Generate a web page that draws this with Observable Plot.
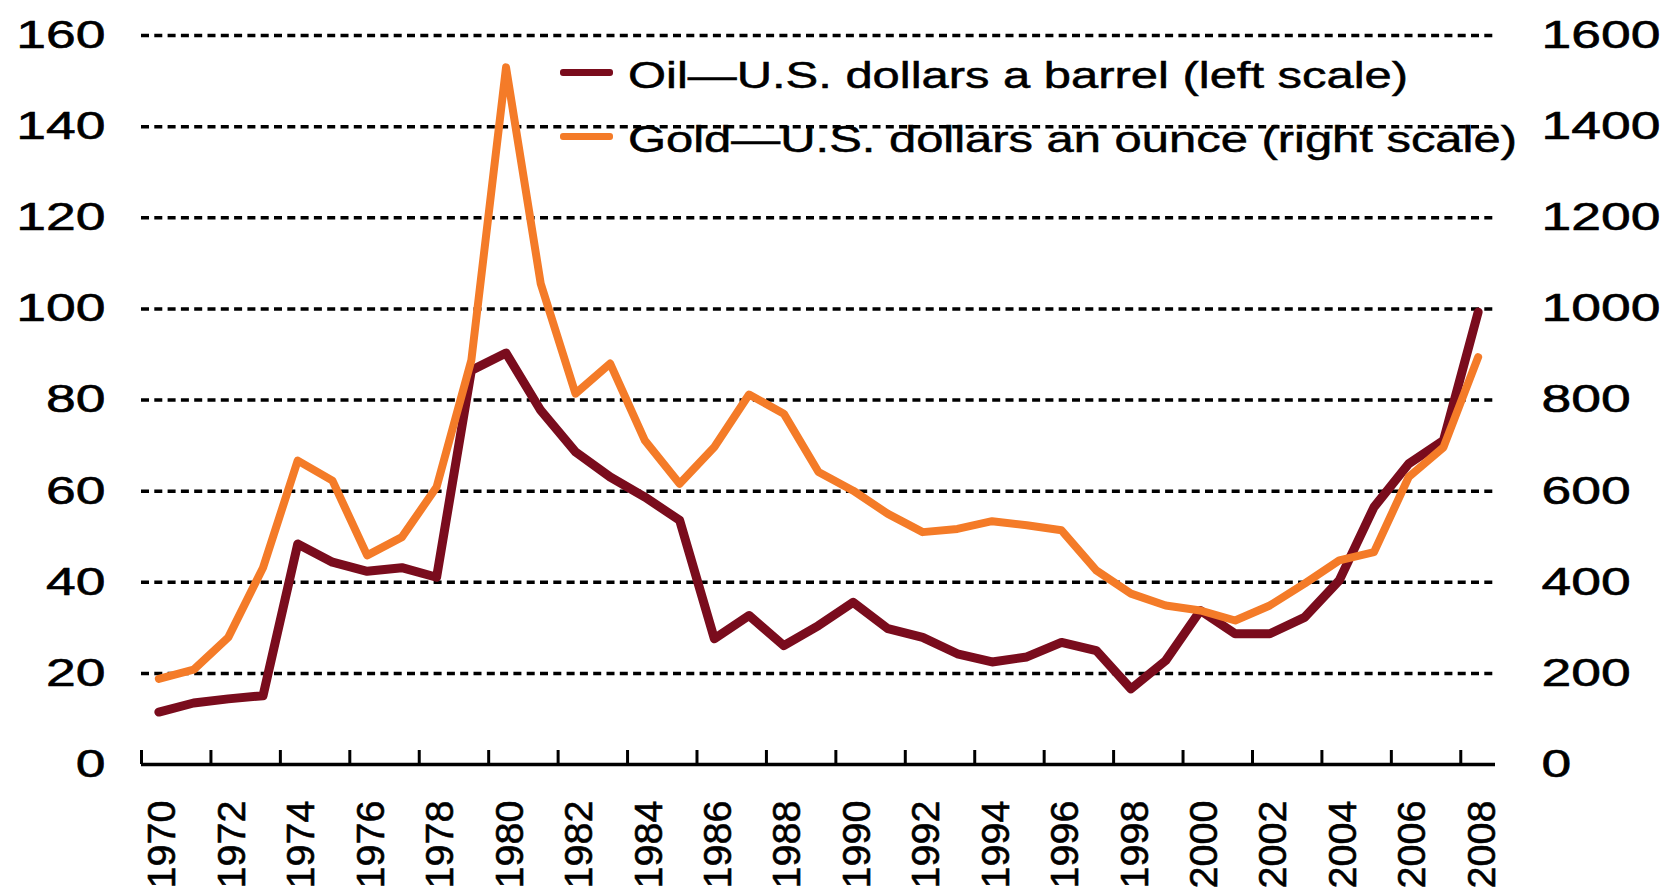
<!DOCTYPE html>
<html><head><meta charset="utf-8">
<script src="https://cdn.jsdelivr.net/npm/d3@7"></script>
<script src="https://cdn.jsdelivr.net/npm/@observablehq/plot@0.6"></script>
<style>
html,body{margin:0;padding:0;background:#fff;}
#wrap{position:relative;width:1669px;height:896px;overflow:hidden;font-family:"Liberation Sans",Arial,sans-serif;}
#wrap svg{position:absolute;left:0;top:0;}
#wrap svg text{stroke:#000;stroke-width:0.6px;}
.leg{position:absolute;left:560px;height:36px;}
.sw{position:absolute;left:0;top:11px;width:53px;height:7px;border-radius:3px;}
.lt{position:absolute;left:68px;top:0;font-size:36.5px;line-height:36px;white-space:nowrap;transform:scaleX(1.34);transform-origin:0 50%;color:#000;-webkit-text-stroke:0.5px #000;}
</style></head>
<body><div id="wrap"></div>
<script>
// ---- data ----
const years = [1970,1971,1972,1973,1974,1975,1976,1977,1978,1979,
               1980,1981,1982,1983,1984,1985,1986,1987,1988,1989,
               1990,1991,1992,1993,1994,1995,1996,1997,1998,1999,
               2000,2001,2002,2003,2004,2005,2006,2007,2008];
const oil = [11.5,13.5,14.4,15.1,48.4,44.4,42.4,43.2,41.1,86.5,
             90.3,77.7,68.6,63.1,58.7,53.6,27.6,32.7,26.1,30.5,
             35.6,29.8,27.9,24.3,22.5,23.6,26.8,25.0,16.6,22.8,
             33.8,28.7,28.7,32.3,40.4,56.5,66.0,71.1,99.3];
const gold = [188,208,279,432,667,623,459,499,609,887,
              1530,1055,814,880,711,616,697,812,770,642,
              601,550,510,517,534,525,514,426,375,349,
              338,316,349,397,448,466,631,696,894];
const labelYears = [1970,1972,1974,1976,1978,1980,1982,1984,1986,1988,1990,
                    1992,1994,1996,1998,2000,2002,2004,2006,2008];
const leftTicks = [0,20,40,60,80,100,120,140,160];
const rightTicks = [0,200,400,600,800,1000,1200,1400,1600];
const seriesNames = ["Oil\u2014U.S. dollars a barrel (left scale)",
                     "Gold\u2014U.S. dollars an ounce (right scale)"];
const seriesColors = ["#7a0c1d", "#f47b28"];

// ---- chart ----
const data = years.map((year, i) => ({year, oil: oil[i], gold: gold[i]}));
const goldToLeft = v => v / 10;
const tickBoundaries = labelYears.map(y => y - 0.5);

const chart = Plot.plot({
  width: 1669, height: 896,
  marginLeft: 141, marginRight: 174, marginTop: 35, marginBottom: 132,
  x: {type: "linear", domain: [1969.5, 2008.5]},
  y: {domain: [0, 160]},
  style: {fontFamily: "'Liberation Sans', Arial, sans-serif", color: "#000", background: "#fff", overflow: "visible"},
  marks: [
    Plot.ruleY(leftTicks.filter(d => d > 0), {stroke: "#000", strokeWidth: 3.5, strokeDasharray: "8,5.3"}),
    Plot.ruleY([0], {stroke: "#000", strokeWidth: 3.5}),
    Plot.axisX({ticks: tickBoundaries, tickSize: 14, dy: -14, strokeWidth: 3, tickFormat: () => "", label: null}),
    Plot.axisX({ticks: labelYears, tickSize: 0, tickPadding: 36, tickRotate: -90, fontSize: 39.5, dx: 4, tickFormat: d => String(d), label: null}),
    Plot.axisY({anchor: "left", ticks: leftTicks, tickSize: 0, tickPadding: 36, fontSize: 39, tickFormat: d => String(d), label: null}),
    Plot.axisY({anchor: "right", ticks: rightTicks.map(goldToLeft), tickSize: 0, tickPadding: 46, fontSize: 39, tickFormat: d => String(Math.round(d * 10)), label: null}),
    Plot.line(data, {x: "year", y: "oil", stroke: seriesColors[0], strokeWidth: 9, strokeLinejoin: "round"}),
    Plot.line(data, {x: "year", y: d => goldToLeft(d.gold), stroke: seriesColors[1], strokeWidth: 8, strokeLinejoin: "round"})
  ]
});

// horizontally widened y tick labels (as in the reference)
d3.select(chart).selectAll('g[aria-label="y-axis tick label"] text').each(function() {
  let t = this.getAttribute("transform");
  if (!t) {
    const x = this.getAttribute("x") || 0, y = this.getAttribute("y") || 0;
    this.removeAttribute("x"); this.removeAttribute("y");
    t = `translate(${x},${y})`;
  }
  this.setAttribute("transform", t + " scale(1.37,1)");
});

const wrap = document.getElementById("wrap");
wrap.appendChild(chart);

// legend
const legTops = [58, 122];
seriesNames.forEach((name, i) => {
  const row = document.createElement("div");
  row.className = "leg";
  row.style.top = legTops[i] + "px";
  const sw = document.createElement("div");
  sw.className = "sw";
  sw.style.background = seriesColors[i];
  const lt = document.createElement("div");
  lt.className = "lt";
  lt.textContent = name;
  row.appendChild(sw); row.appendChild(lt);
  wrap.appendChild(row);
});
</script>
</body></html>
